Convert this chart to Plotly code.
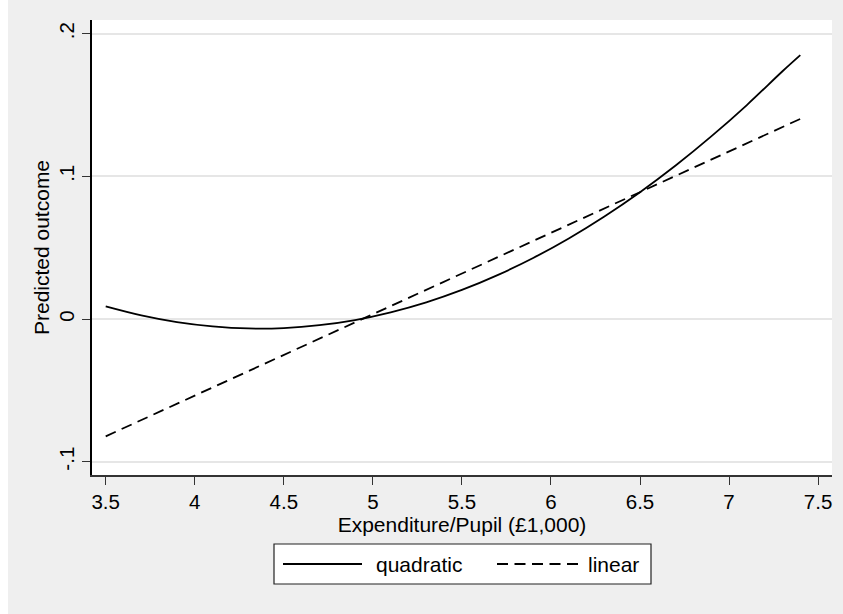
import plotly.graph_objects as go

# ---- data ----
x_vals = [3.5, 3.7, 3.9, 4.1, 4.3, 4.5, 4.7, 4.9, 5.1, 5.3, 5.5, 5.7,
          5.9, 6.1, 6.3, 6.5, 6.7, 6.9, 7.1, 7.3, 7.4]
quadratic = [0.0089, 0.0026, -0.0021, -0.0051, -0.0066, -0.0063, -0.0043,
             -0.0007, 0.0047, 0.0117, 0.0204, 0.0308, 0.0428, 0.0565,
             0.0719, 0.0889, 0.1076, 0.1280, 0.1500, 0.1737, 0.1850]
linear = [-0.0822, -0.0708, -0.0594, -0.0480, -0.0366, -0.0251, -0.0137,
          -0.0023, 0.0091, 0.0205, 0.0319, 0.0433, 0.0547, 0.0661,
          0.0775, 0.0890, 0.1004, 0.1118, 0.1232, 0.1346, 0.1403]
x_ticks = [3.5, 4, 4.5, 5, 5.5, 6, 6.5, 7, 7.5]
x_ticktext = ["3.5", "4", "4.5", "5", "5.5", "6", "6.5", "7", "7.5"]
y_ticks = [-0.1, 0, 0.1, 0.2]
y_ticktext = ["-.1", "0", ".1", ".2"]
series_names = ["quadratic", "linear"]

# page: figure placed 8px from the left edge, flush with the top
OFFX = 8
W, H = 835, 614
ML, MR, MT, MB = 92 - OFFX, 11, 20, 139
PW, PH = W - ML - MR, H - MT - MB

def px_x(p):  # screenshot x pixel -> paper fraction
    return (p - OFFX - ML) / PW

def px_y(p):  # screenshot y pixel -> paper fraction
    return (H - MB - p) / PH

FONT = "Liberation Sans, Arial, sans-serif"
BG = "#efefef"
DASH = "11px,6.5px"

fig = go.Figure()
fig.add_trace(go.Scatter(x=x_vals, y=quadratic, mode="lines", name=series_names[0],
                         line=dict(color="black", width=1.8, shape="spline"),
                         showlegend=False))
fig.add_trace(go.Scatter(x=x_vals, y=linear, mode="lines", name=series_names[1],
                         line=dict(color="black", width=1.8, dash=DASH),
                         showlegend=False))

shapes = [
    # white plot region (drawn on the grey page background)
    dict(type="rect", xref="paper", yref="paper", layer="below",
         x0=0, x1=1, y0=0, y1=1, fillcolor="white", line=dict(width=0)),
    # legend box
    dict(type="rect", xref="paper", yref="paper",
         x0=px_x(274), x1=px_x(651), y0=px_y(584), y1=px_y(544),
         fillcolor="white", line=dict(color="#222222", width=1.2)),
    dict(type="line", xref="paper", yref="paper",
         x0=px_x(283), x1=px_x(362), y0=px_y(564), y1=px_y(564),
         line=dict(color="black", width=1.8)),
    dict(type="line", xref="paper", yref="paper",
         x0=px_x(497), x1=px_x(578), y0=px_y(564), y1=px_y(564),
         line=dict(color="black", width=1.8, dash=DASH)),
]
annotations = [
    dict(text=series_names[0], xref="paper", yref="paper", x=px_x(374), y=px_y(564),
         xanchor="left", yanchor="middle", showarrow=False,
         font=dict(family=FONT, size=21, color="black")),
    dict(text=series_names[1], xref="paper", yref="paper", x=px_x(586), y=px_y(564),
         xanchor="left", yanchor="middle", showarrow=False,
         font=dict(family=FONT, size=21, color="black")),
]

fig.update_layout(
    width=W, height=H,
    margin=dict(l=ML, r=MR, t=MT, b=MB, autoexpand=False),
    paper_bgcolor=BG, plot_bgcolor="rgba(0,0,0,0)",
    font=dict(family=FONT, size=20, color="black"),
    shapes=shapes, annotations=annotations,
    showlegend=False,
)
fig.update_xaxes(
    range=[3.423, 7.578], tickvals=x_ticks, ticktext=x_ticktext,
    showgrid=False, zeroline=False,
    showline=True, linecolor="#333333", linewidth=1.5,
    ticks="outside", ticklen=8, tickwidth=1.3, tickcolor="#333333",
    tickfont=dict(size=20.5),
    title=dict(text="Expenditure/Pupil (£1,000)", font=dict(size=21), standoff=0),
    automargin=False,
)
fig.update_yaxes(
    range=[-0.1093, 0.2096], tickvals=y_ticks, ticktext=y_ticktext,
    showgrid=True, gridcolor="#e6e6e6", gridwidth=1.5, zeroline=False,
    showline=True, linecolor="black", linewidth=1.5,
    ticks="outside", ticklen=8, tickwidth=1.3, tickcolor="#333333",
    tickangle=-90, tickfont=dict(size=20.5),
    title=dict(text="Predicted outcome", font=dict(size=21), standoff=0),
    automargin=False,
)

fig.write_html("out.html",
               post_script="document.body.style.margin='0px 0px 0px 8px';"
                           "document.body.style.overflow='hidden';")
